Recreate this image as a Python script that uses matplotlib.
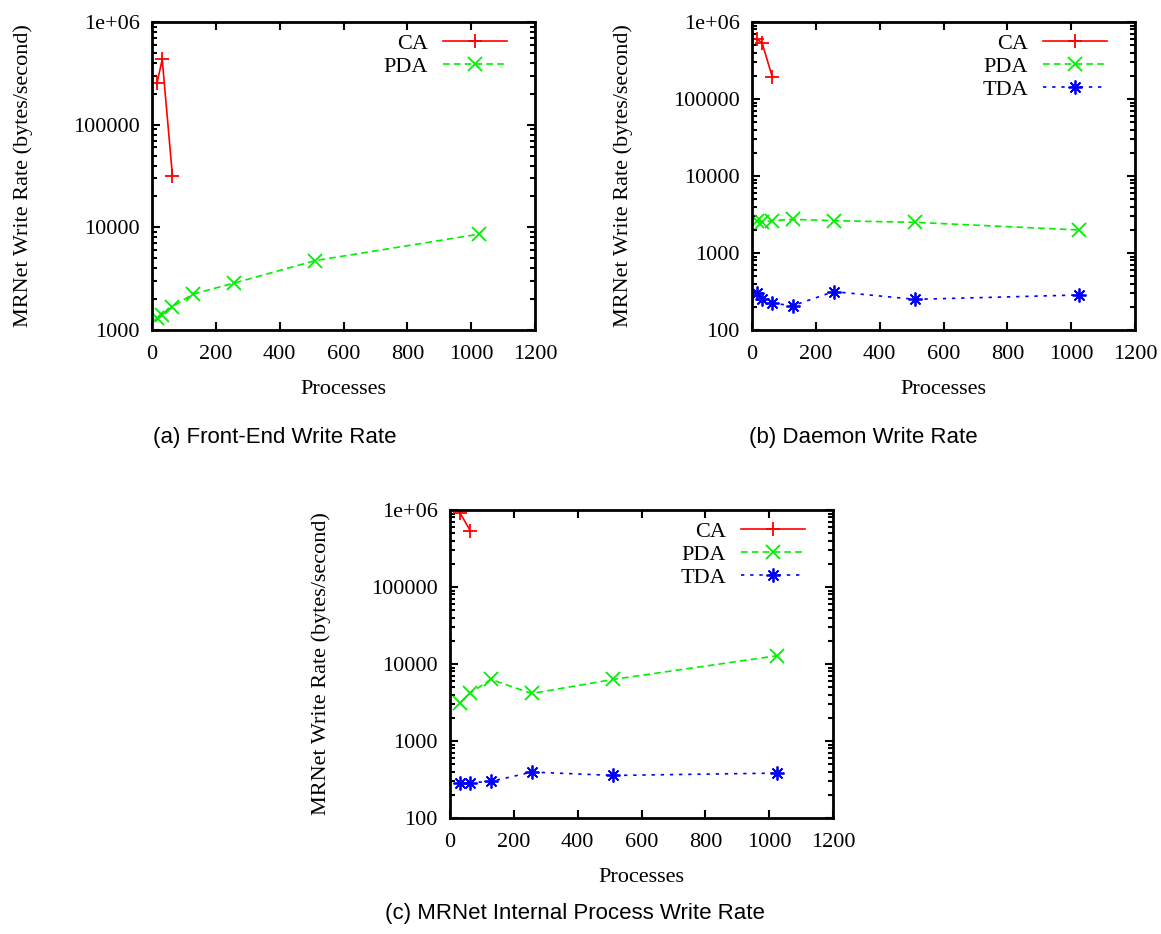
import matplotlib
matplotlib.use("Agg")
import matplotlib.pyplot as plt
from matplotlib.ticker import FixedLocator, FixedFormatter, LogLocator, NullFormatter

# ---------------- data ----------------
procs = [16, 32, 64, 128, 256, 512, 1024]

fe_ca_x = [16, 32, 64]
fe_ca = [256000, 433000, 31900]
fe_pda = [1303, 1403, 1690, 2234, 2858, 4745, 8575]

dm_ca_x = [16, 32, 64]
dm_ca = [601000, 529000, 191000]
dm_pda = [2630, 2500, 2630, 2734, 2630, 2500, 1990]
dm_tda = [305, 251, 222, 207, 315, 250, 285]

mi_x = [32, 64, 128, 256, 512, 1024]
mi_ca_x = [32, 64]
mi_ca = [906000, 534000]
mi_pda = [3162, 4217, 6310, 4140, 6310, 12800]
mi_tda = [288, 288, 298, 395, 357, 383]

xticks = [0, 200, 400, 600, 800, 1000, 1200]
yticks_a = [1000, 10000, 100000, 1000000]
ylabels_a = ["1000", "10000", "100000", "1e+06"]
yticks_bc = [100, 1000, 10000, 100000, 1000000]
ylabels_bc = ["100", "1000", "10000", "100000", "1e+06"]

captions = ["(a) Front-End Write Rate", "(b) Daemon Write Rate",
            "(c) MRNet Internal Process Write Rate"]
xlabel = "Processes"
ylabel = "MRNet Write Rate (bytes/second)"

# ---------------- style ----------------
SERIF = ["Liberation Serif", "DejaVu Serif"]
SANS = ["Liberation Sans", "DejaVu Sans"]
FS = 16
RED = "#ff0000"
GREEN = "#00f000"
BLUE = "#0000ff"
ASTER = (8, 2, 0)

W, H = 1161, 934
fig = plt.figure(figsize=(W / 100, H / 100), dpi=100)


def add_axes(left, top, right, bottom):
    return fig.add_axes([left / W, 1 - bottom / H, (right - left) / W, (bottom - top) / H])


def style(ax, yt, yl, ylim):
    ax.set_yscale("log")
    ax.set_xlim(0, 1200)
    ax.set_ylim(*ylim)
    ax.xaxis.set_major_locator(FixedLocator(xticks))
    ax.set_xticklabels([str(t) for t in xticks], family=SERIF, fontsize=FS)
    ax.yaxis.set_major_locator(FixedLocator(yt))
    ax.yaxis.set_major_formatter(FixedFormatter(yl))
    ax.yaxis.set_minor_locator(LogLocator(base=10, subs=range(2, 10)))
    ax.yaxis.set_minor_formatter(NullFormatter())
    for lab in ax.get_yticklabels():
        lab.set_family(SERIF)
        lab.set_fontsize(FS)
    ax.tick_params(which="both", direction="in", top=True, right=True, width=1.5)
    ax.tick_params(which="major", length=6, pad=9)
    ax.tick_params(which="minor", length=3.5)
    ax.tick_params(axis="x", pad=11)
    for s in ax.spines.values():
        s.set_linewidth(2)
    ax.set_xlabel(xlabel, family=SERIF, fontsize=FS)
    ax.set_ylabel(ylabel, family=SERIF, fontsize=FS)
    ax.xaxis.set_label_coords(0.5, -0.162)
    ax.yaxis.set_label_coords(-0.31, 0.5)


def legend(ax):
    ax.legend(loc="upper right", bbox_to_anchor=(0.927, 0.962), markerfirst=False,
              frameon=False, handlelength=2.9, handletextpad=0.65, labelspacing=0.1,
              borderpad=0, borderaxespad=0, prop={"family": SERIF, "size": FS})


line_kw = dict(linewidth=1.2, markersize=10, markeredgewidth=1.3)
DASH = (0, (4, 2.5))
DOT = (0, (2, 3.5))

# (a)
ax1 = add_axes(152, 22, 535, 330)
ax1.plot(fe_ca_x, fe_ca, color=RED, linestyle="-", marker="+", label="CA", **line_kw)
ax1.plot(procs, fe_pda, color=GREEN, linestyle=DASH, marker="x", label="PDA", **line_kw)
style(ax1, yticks_a, ylabels_a, (1000, 1e6))
legend(ax1)

# (b)
ax2 = add_axes(752, 22, 1135, 330)
ax2.plot(dm_ca_x, dm_ca, color=RED, linestyle="-", marker="+", label="CA", **line_kw)
ax2.plot(procs, dm_pda, color=GREEN, linestyle=DASH, marker="x", label="PDA", **line_kw)
ax2.plot(procs, dm_tda, color=BLUE, linestyle=DOT, marker=ASTER, label="TDA", **line_kw)
style(ax2, yticks_bc, ylabels_bc, (100, 1e6))
legend(ax2)

# (c)
ax3 = add_axes(450, 510, 833, 818)
ax3.plot(mi_ca_x, mi_ca, color=RED, linestyle="-", marker="+", label="CA", **line_kw)
ax3.plot(mi_x, mi_pda, color=GREEN, linestyle=DASH, marker="x", label="PDA", **line_kw)
ax3.plot(mi_x, mi_tda, color=BLUE, linestyle=DOT, marker=ASTER, label="TDA", **line_kw)
style(ax3, yticks_bc, ylabels_bc, (100, 1e6))
legend(ax3)

# captions
fig.text(153 / W, 1 - 437 / H, captions[0], family=SANS, fontsize=16, ha="left", va="center")
fig.text(749 / W, 1 - 437 / H, captions[1], family=SANS, fontsize=16, ha="left", va="center")
fig.text(385 / W, 1 - 913 / H, captions[2], family=SANS, fontsize=16, ha="left", va="center")

fig.savefig("out.png", dpi=100)
